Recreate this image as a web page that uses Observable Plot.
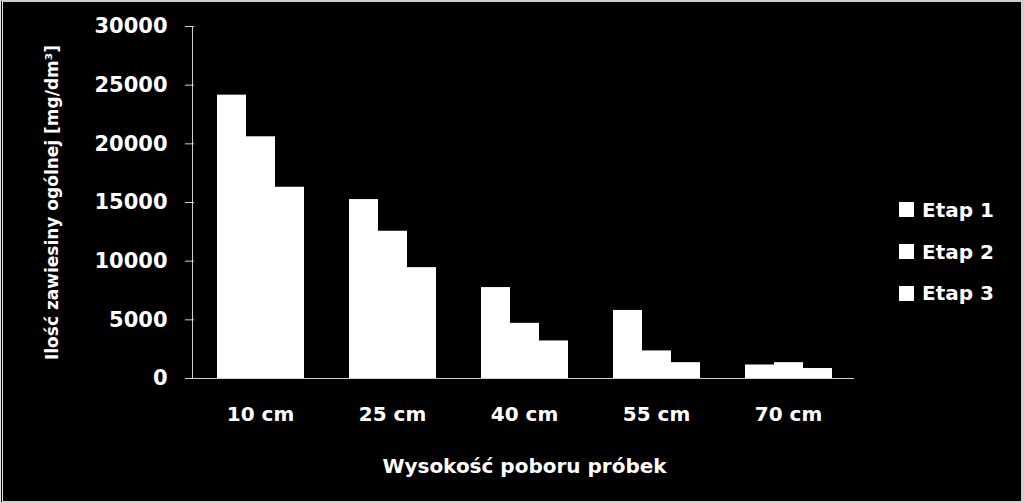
<!DOCTYPE html>
<html><head><meta charset="utf-8">
<script src="https://cdn.jsdelivr.net/npm/d3@7"></script>
<script src="https://cdn.jsdelivr.net/npm/@observablehq/plot@0.6"></script>
<style>
html,body{margin:0;padding:0;background:#000;}
#wrap{position:relative;width:1024px;height:503px;background:#000;overflow:hidden;}
#frame{position:absolute;left:0;top:0;width:1024px;height:503px;box-sizing:border-box;border-top:2px solid #cfcfcf;border-left:3px double #e6e6e6;border-right:3px solid #cfcfcf;border-bottom:2px solid #cfcfcf;pointer-events:none;}
#chart{position:absolute;left:0;top:0;}
#legend{position:absolute;left:899px;top:189px;font:bold 20px "DejaVu Sans";color:#fff;}
.item{display:flex;align-items:center;height:41.7px;}
.sw{width:15px;height:15px;background:#fff;margin-right:8px;}
</style>
</head><body>
<div id="wrap"><div id="chart"></div><div id="legend"></div><div id="frame"></div></div>
<script>
const categories = ["10 cm","25 cm","40 cm","55 cm","70 cm"];
const series = ["Etap 1","Etap 2","Etap 3"];
const etap1 = [24150, 15250, 7750, 5800, 1150];
const etap2 = [20600, 12550, 4700, 2350, 1350];
const etap3 = [16300, 9450, 3200, 1350, 850];
const yTicks = [0, 5000, 10000, 15000, 20000, 25000, 30000];
const xTitle = "Wysokość poboru próbek";
const yTitle = "Ilość zawiesiny ogólnej [mg/dm³]";

const values = [etap1, etap2, etap3];
const data = [];
categories.forEach((c, i) => series.forEach((s, j) => data.push({cat: c, etap: s, value: values[j][i]})));

const chart = Plot.plot({
  width: 1024, height: 503,
  marginLeft: 192, marginRight: 169, marginTop: 26, marginBottom: 125,
  style: {fontFamily: "DejaVu Sans", fontSize: "20px", fontWeight: "bold", color: "white", background: "transparent", overflow: "visible"},
  fx: {domain: categories, padding: 0, axis: null},
  x: {domain: series, paddingInner: 0, paddingOuter: 0.75, axis: null},
  y: {domain: [0, 30000], axis: null},
  marks: [
    Plot.barY(data, {fx: "cat", x: "etap", y: "value", fill: "white"}),
    Plot.ruleY([0], {stroke: "#d0d0d0"}),
    Plot.axisY({ticks: yTicks, tickFormat: d3.format("d"), tickSize: 9, tickPadding: 18, fontSize: 21,
      stroke: "#d0d0d0", fill: "white",
      label: yTitle, labelAnchor: "center", labelOffset: 149, labelArrow: "none"}),
    Plot.axisFx({anchor: "bottom", tickSize: 0, tickPadding: 28, fontSize: 20,
      label: xTitle, labelAnchor: "center", labelOffset: 94})
  ]
});
document.getElementById("chart").appendChild(chart);

// y-axis line, placed with the plot's own y scale at the frame's left edge
const yS = chart.scale("y");
d3.select(chart).append("line")
  .attr("x1", 192.5).attr("x2", 192.5)
  .attr("y1", yS.apply(30000)).attr("y2", yS.apply(0))
  .attr("stroke", "#d0d0d0");
// y-title size
d3.select(chart).selectAll("[aria-label='y-axis label'] text").style("font-size", "17px");

const legend = document.getElementById("legend");
series.forEach(s => {
  const it = document.createElement("div");
  it.className = "item";
  it.innerHTML = '<div class="sw"></div><span></span>';
  it.querySelector("span").textContent = s;
  legend.appendChild(it);
});
</script>
</body></html>
